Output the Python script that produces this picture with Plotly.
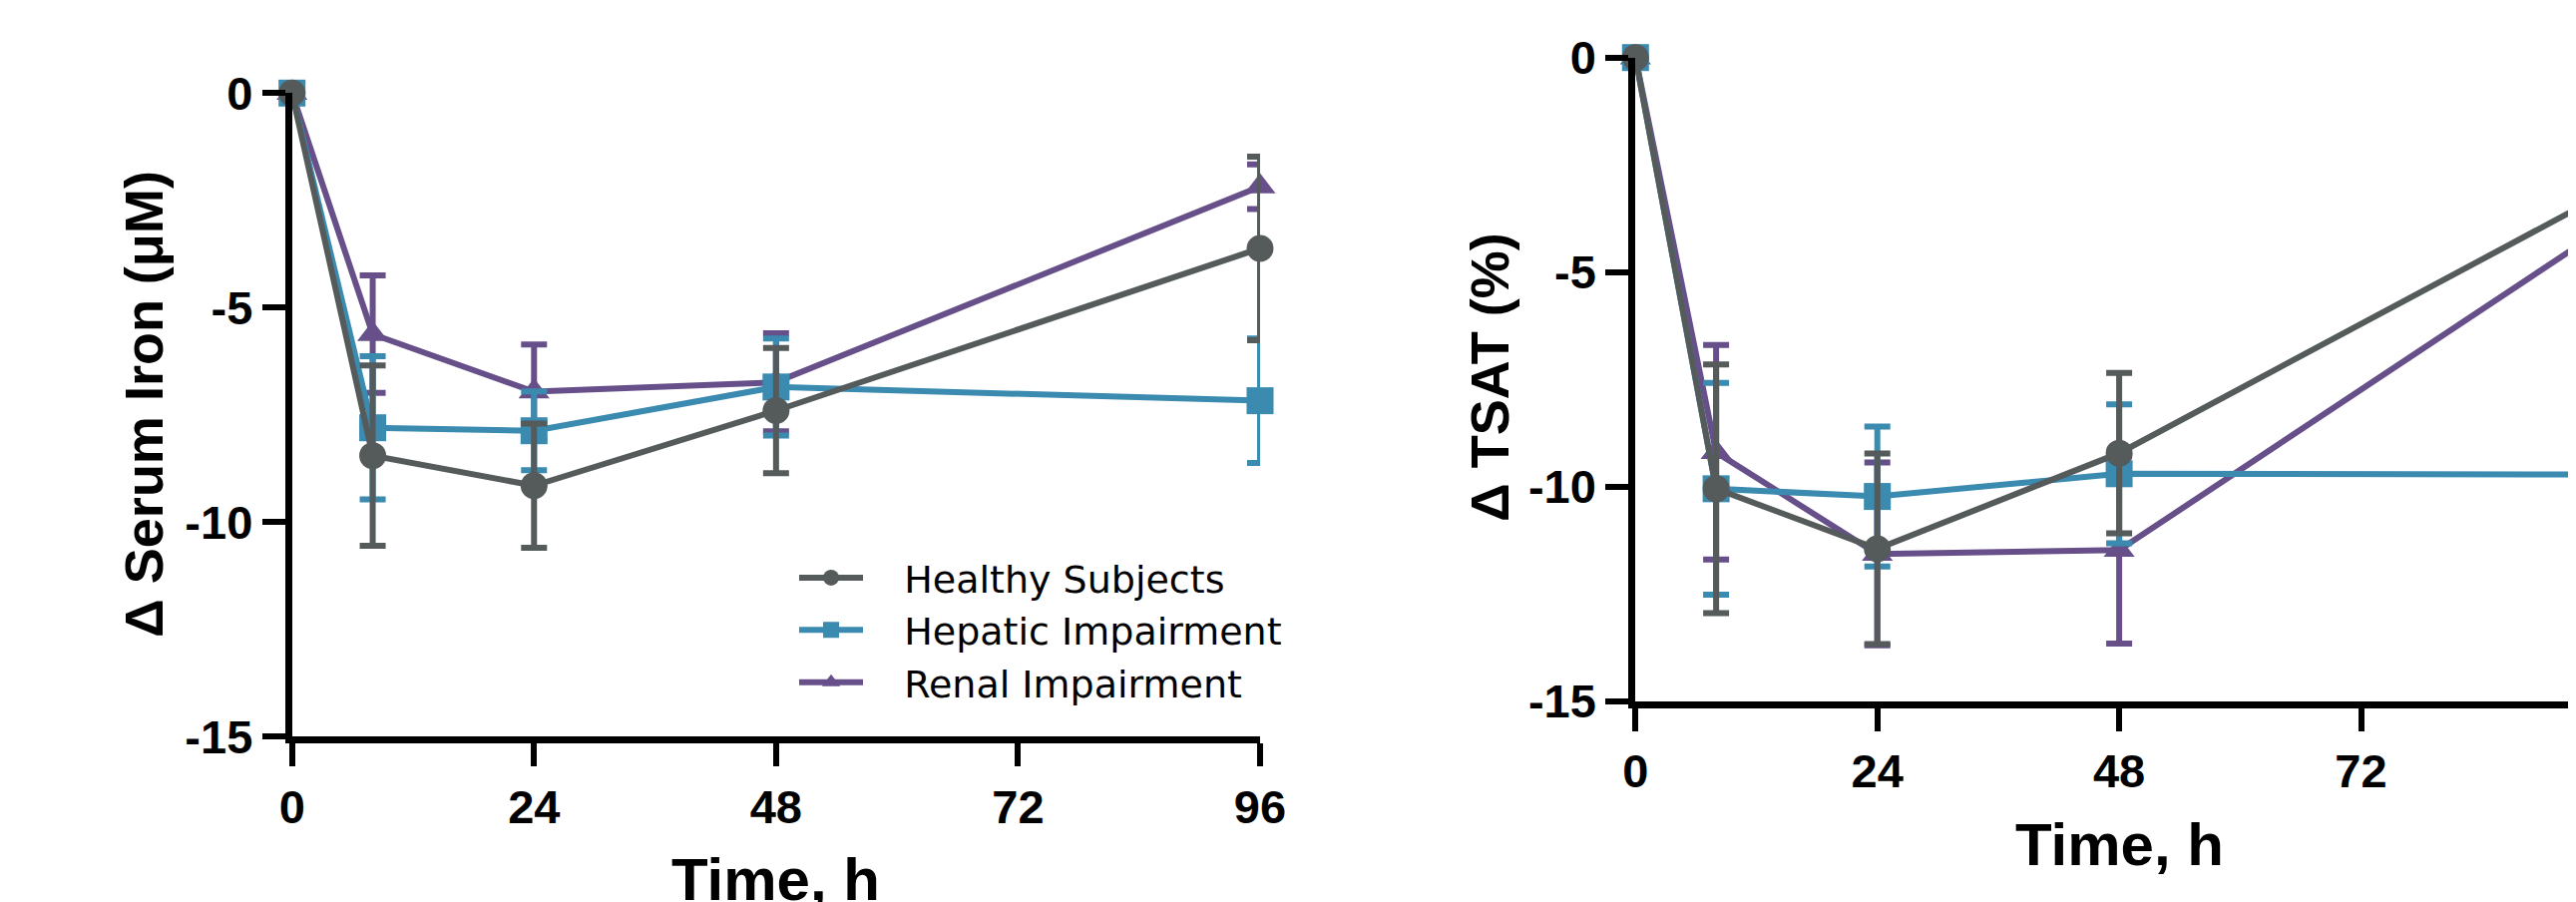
import plotly.graph_objects as go

# ---------------- data ----------------
time_h = [0, 8, 24, 48, 96]

series_names = ["Healthy Subjects", "Hepatic Impairment", "Renal Impairment"]

# Δ Serum Iron (µM): mean and SD
iron_healthy = [0, -8.45, -9.15, -7.40, -3.62]
iron_healthy_sd = [0, 2.10, 1.45, 1.46, 2.14]
iron_hepatic = [0, -7.80, -7.87, -6.85, -7.17]
iron_hepatic_sd = [0, 1.67, 0.92, 1.13, 1.45]
iron_renal = [0, -5.62, -6.96, -6.74, -2.18]
iron_renal_sd = [0, 1.37, 1.10, 1.14, 0.52]

# Δ TSAT (%): mean and SD
tsat_healthy = [0, -10.05, -11.45, -9.22, -3.20]
tsat_healthy_sd = [0, 2.90, 2.22, 1.87, 1.50]
tsat_hepatic = [0, -10.05, -10.23, -9.70, -9.72]
tsat_hepatic_sd = [0, 2.47, 1.63, 1.62, 1.50]
tsat_renal = [0, -9.20, -11.57, -11.48, -4.00]
tsat_renal_sd = [0, 2.50, 2.13, 2.18, 1.50]

x_ticks = [0, 24, 48, 72, 96]
x_ticktext = ["0", "24", "48", "72", "96"]
y_ticks = [0, -5, -10, -15]
y_ticktext = ["0", "-5", "-10", "-15"]

# ---------------- styles ----------------
colors = {"Healthy Subjects": "#555a5b", "Hepatic Impairment": "#3b8ab0", "Renal Impairment": "#67508a"}
symbols = {"Healthy Subjects": "circle", "Hepatic Impairment": "square", "Renal Impairment": "triangle-up"}
ranks = {"Healthy Subjects": 1, "Hepatic Impairment": 2, "Renal Impairment": 3}
FONT = "Arial, Liberation Sans, Helvetica, sans-serif"
LEG_FONT = "DejaVu Sans, Arial, sans-serif"
NBSP = "\u00a0"

W, H = 2582, 904
OFF = 8  # page offset of the figure (body margin), compensated below


def px_x(x):
    return (x - OFF) / W


def px_y(y):
    return 1 - (y - OFF) / H


fig = go.Figure()

panels = [
    ("x", "y", {"Healthy Subjects": (iron_healthy, iron_healthy_sd),
                "Hepatic Impairment": (iron_hepatic, iron_hepatic_sd),
                "Renal Impairment": (iron_renal, iron_renal_sd)}, True),
    ("x2", "y2", {"Healthy Subjects": (tsat_healthy, tsat_healthy_sd),
                  "Hepatic Impairment": (tsat_hepatic, tsat_hepatic_sd),
                  "Renal Impairment": (tsat_renal, tsat_renal_sd)}, False),
]

draw_order = ["Renal Impairment", "Hepatic Impairment", "Healthy Subjects"]
for xa, ya, data, show in panels:
    for name in draw_order:
        vals, sd = data[name]
        c = colors[name]
        fig.add_trace(go.Scatter(
            x=time_h, y=vals, name=NBSP * 3 + name, mode="lines+markers",
            xaxis=xa, yaxis=ya, showlegend=show, legendrank=ranks[name],
            line=dict(color=c, width=6),
            marker=dict(symbol=symbols[name], size=27, color=c, line=dict(width=0)),
            error_y=dict(type="data", array=sd, visible=True, color=c, thickness=6, width=13),
            cliponaxis=False,
        ))

axis_common = dict(
    showline=True, linecolor="black", linewidth=7,
    ticks="outside", ticklen=23, tickwidth=6, tickcolor="black",
    showgrid=False, zeroline=False, automargin=False,
    tickfont=dict(family=FONT, size=47, color="black", weight="bold"),
)

x0_right = 1639.3
px_per_h = 10.1
right_max = (W + OFF - x0_right) / px_per_h

fig.update_layout(
    template="none",
    width=W, height=H,
    margin=dict(l=0, r=0, t=0, b=0, autoexpand=False),
    paper_bgcolor="white", plot_bgcolor="white",
    xaxis=dict(domain=[px_x(292.7), px_x(1263)], range=[0, 96], tickvals=x_ticks, ticktext=x_ticktext,
               anchor="y", **axis_common),
    yaxis=dict(domain=[px_y(738.3), px_y(93.3)], range=[-15, 0], tickvals=y_ticks, ticktext=y_ticktext,
               anchor="x", **axis_common),
    xaxis2=dict(domain=[px_x(x0_right), 1.0], range=[0, right_max], tickvals=x_ticks, ticktext=x_ticktext,
                anchor="y2", **axis_common),
    yaxis2=dict(domain=[px_y(702.7), px_y(57.7)], range=[-15, 0], tickvals=y_ticks, ticktext=y_ticktext,
                anchor="x2", **axis_common),
    legend=dict(
        x=0.3052, y=0.403, xanchor="left", yanchor="top",
        font=dict(family=LEG_FONT, size=38, color="black"),
        bgcolor="rgba(0,0,0,0)", itemwidth=64, tracegroupgap=0,
    ),
    showlegend=True,
)

title_font = dict(family=FONT, size=60, color="black", weight="bold")
annots = [
    dict(text="Time, h", x=px_x(777), y=0.026 + 7 / H, font=title_font, textangle=0),
    dict(text="Time, h", x=px_x(2124), y=0.064 + 8 / H, font=title_font, textangle=0),
    dict(text="Δ Serum Iron (μM)", x=px_x(144), y=px_y(405),
         font=dict(family=FONT, size=54, color="black", weight="bold"), textangle=-90),
    dict(text="Δ TSAT (%)", x=px_x(1493), y=px_y(378),
         font=dict(family=FONT, size=54, color="black", weight="bold"), textangle=-90),
]
for a in annots:
    fig.add_annotation(xref="paper", yref="paper", showarrow=False,
                       xanchor="center", yanchor="middle", **a)

fig.write_html("out.html")
